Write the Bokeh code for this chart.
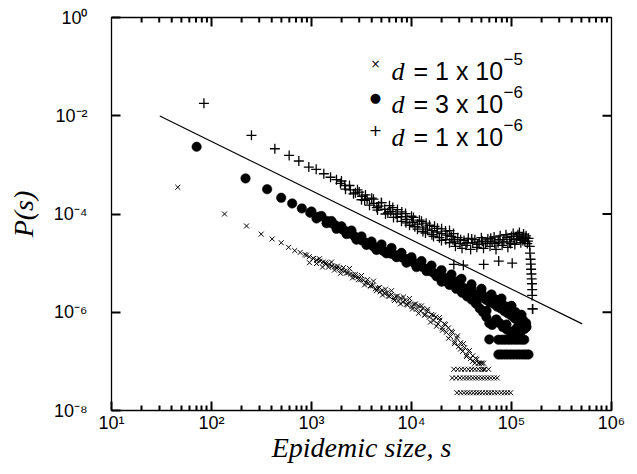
from bokeh.plotting import figure
from bokeh.models import (FixedTicker, CustomJSTickFormatter, Label, Range1d)
from bokeh.embed import file_html
from bokeh.resources import INLINE

# ---------------- data ----------------
# d = 1 x 10^-5  (x markers)
s_d1e5 = [46, 135, 224, 314, 404, 498, 590, 680, 770, 860, 950, 1040, 1130, 1220,
          1310, 1400, 1500, 1600, 1700, 1800, 1900, 2000, 2150, 2300, 2450, 2600,
          2750, 2900, 3100, 3300, 3500, 3700, 3900, 4100, 4350, 4600, 4850, 5100,
          5400, 5700, 6000, 6300, 6650, 7000, 7400, 7800, 8200, 8650, 9100, 9600,
          10100, 10600, 11200, 11800, 12400, 13000, 13700, 14400, 15100, 15900,
          16700, 17500, 18400, 19300, 20300, 21300, 22300, 23400, 24500, 25700,
          27000, 28300, 29600, 31000, 32500, 34000, 35600, 37200, 39000, 41000,
          43000, 45000, 47500, 50000, 52500,
          891, 955, 1047, 1122, 1202, 1288, 1380, 1479, 1585, 1698, 1820, 1950, 2089,
          2239, 2399, 2570, 2754, 2951, 3162, 3388, 3631, 3890, 4169, 4467, 4786,
          5129, 5495, 5888, 6310, 6761, 7244, 7762, 8318, 8913, 9550, 10230, 10960,
          11750, 12590, 13490, 14450, 15490, 16600, 17780, 19050, 20420, 21880,
          23440, 25120, 26920, 28840, 30900, 33110, 35480, 38020, 40740, 43650,
          46770, 50120, 52480,
          26500, 29000, 31500, 34000, 37000, 40000, 43000, 46500, 50000, 54000, 59000,
          25600, 28000, 30500, 33000, 35500, 38000, 41000, 44000, 47000, 50500, 54000,
          58000, 62000, 67000, 72000,
          28500, 31000, 33500, 36000, 38500, 41500, 44500, 47500, 51000, 55000, 59000,
          63000, 68000, 73000, 79000, 85000, 91000, 98000]
p_d1e5 = [3.5e-4, 1.0e-4, 5.7e-5, 3.9e-5, 3.1e-5, 2.6e-5, 2.1e-5, 1.8e-5, 1.65e-5,
          1.5e-5, 1.35e-5, 1.25e-5, 1.15e-5, 1.1e-5, 1.05e-5, 9.6e-6, 9.4e-6, 8.7e-6,
          8.4e-6, 7.9e-6, 7.8e-6, 7.2e-6, 6.9e-6, 6.3e-6, 6.0e-6, 5.8e-6, 5.3e-6,
          5.2e-6, 4.6e-6, 4.5e-6, 4.0e-6, 3.9e-6, 3.4e-6, 3.5e-6, 3.0e-6, 3.1e-6,
          2.6e-6, 2.8e-6, 2.4e-6, 2.5e-6, 2.1e-6, 2.3e-6, 1.9e-6, 2.1e-6, 1.7e-6,
          1.95e-6, 1.6e-6, 1.75e-6, 1.4e-6, 1.6e-6, 1.3e-6, 1.45e-6, 1.15e-6, 1.35e-6,
          1.05e-6, 1.2e-6, 9.0e-7, 1.05e-6, 8.0e-7, 9.0e-7, 6.8e-7, 8.0e-7, 5.8e-7,
          6.9e-7, 4.8e-7, 5.8e-7, 3.9e-7, 4.8e-7, 3.2e-7, 3.9e-7, 2.5e-7, 3.0e-7,
          2.0e-7, 2.4e-7, 1.6e-7, 1.9e-7, 1.35e-7, 1.6e-7, 1.15e-7, 1.3e-7, 9.2e-8,
          1.1e-7, 9.2e-8, 9.2e-8, 9.2e-8,
          1.45e-5, 1.02e-5, 1.24e-5, 9.8e-6, 1.23e-5, 8.3e-6, 1.02e-5, 8.3e-6, 1.05e-5,
          7.2e-6, 8.7e-6, 6.2e-6, 8.1e-6, 6.3e-6, 7.8e-6, 5.0e-6, 5.9e-6, 4.6e-6,
          5.6e-6, 3.6e-6, 4.6e-6, 3.5e-6, 4.3e-6, 2.75e-6, 3.2e-6, 2.24e-6, 2.95e-6,
          2.14e-6, 2.75e-6, 1.74e-6, 2.14e-6, 1.48e-6, 2.04e-6, 1.45e-6, 1.9e-6,
          1.17e-6, 1.48e-6, 9.5e-7, 1.35e-6, 8.7e-7, 1.15e-6, 6.3e-7, 8.7e-7, 5.2e-7,
          7.8e-7, 4.3e-7, 5.6e-7, 2.95e-7, 4.1e-7, 2.3e-7, 3.3e-7, 1.78e-7, 2.3e-7,
          1.26e-7, 1.66e-7, 1.0e-7, 1.15e-7, 9.2e-8, 9.2e-8, 6.9e-8,
          6.9e-8, 6.9e-8, 6.9e-8, 6.9e-8, 6.9e-8, 6.9e-8, 6.9e-8, 6.9e-8, 6.9e-8,
          6.9e-8, 6.9e-8,
          4.6e-8, 4.6e-8, 4.6e-8, 4.6e-8, 4.6e-8, 4.6e-8, 4.6e-8, 4.6e-8, 4.6e-8,
          4.6e-8, 4.6e-8, 4.6e-8, 4.6e-8, 4.6e-8, 4.6e-8,
          2.3e-8, 2.3e-8, 2.3e-8, 2.3e-8, 2.3e-8, 2.3e-8, 2.3e-8, 2.3e-8, 2.3e-8,
          2.3e-8, 2.3e-8, 2.3e-8, 2.3e-8, 2.3e-8, 2.3e-8, 2.3e-8, 2.3e-8, 2.3e-8]

# d = 3 x 10^-6  (filled circles)
s_d3e6 = [71, 219, 360, 498, 641, 800, 970, 1180, 1430, 1580, 1730, 1900, 2050, 2250,
          2450, 2700, 2950, 3200, 3500, 3800, 4150, 4500, 4900, 5300, 5800, 6300,
          6900, 7500, 8200, 9000, 9800, 10700, 11700, 12800, 14000, 15300, 16700,
          18200, 19900, 21700, 23700, 25800, 28100, 30600, 33300, 36300, 39500, 43000,
          46800, 51000, 55500, 60500, 66000, 72000, 78000, 85000, 92000, 100000,
          108000, 117000, 126000, 135000,
          1000, 1122, 1259, 1413, 1585, 1778, 1995, 2239, 2512, 2818, 3162, 3548,
          3981, 4467, 5012, 5623, 6310, 7079, 7943, 8913, 10000, 11220, 12590, 14130,
          15850, 17780, 19950, 22390, 25120, 28180, 31620, 35480, 39810, 44670, 50120,
          56230, 63100, 70790, 79430, 89130, 100000, 112200, 125900, 141300,
          20000, 24000, 28000, 32000, 36000, 40000, 44000, 48000, 52000, 56000, 60000,
          64000, 70000, 76000, 82000, 90000, 98000, 106000, 115000, 125000,
          30000, 40000, 50000, 60000, 70000, 80000, 90000, 100000, 110000, 120000,
          130000, 140000,
          60000,
          74000, 80000, 86000, 93000, 100000, 108000, 116000, 125000, 134000,
          74000, 79000, 85000, 91000, 98000, 105000, 113000, 121000, 130000, 139000,
          148000]
p_d3e6 = [2.34e-3, 5.3e-4, 3.2e-4, 2.14e-4, 1.64e-4, 1.3e-4, 1.06e-4, 8.8e-5, 7.2e-5,
          6.5e-5, 5.9e-5, 5.3e-5, 4.8e-5, 4.4e-5, 4.0e-5, 3.5e-5, 3.2e-5, 2.9e-5,
          2.6e-5, 2.45e-5, 2.2e-5, 2.05e-5, 1.9e-5, 1.75e-5, 1.65e-5, 1.55e-5,
          1.45e-5, 1.38e-5, 1.28e-5, 1.2e-5, 1.1e-5, 1.0e-5, 9.2e-6, 8.4e-6, 7.6e-6,
          6.9e-6, 6.3e-6, 5.8e-6, 5.4e-6, 5.0e-6, 4.7e-6, 4.3e-6, 3.9e-6, 3.4e-6,
          3.1e-6, 2.8e-6, 2.5e-6, 2.3e-6, 2.1e-6, 2.0e-6, 1.8e-6, 1.6e-6, 1.5e-6,
          1.3e-6, 1.2e-6, 1.05e-6, 9.5e-7, 8.5e-7, 7.5e-7, 6.5e-7, 5.5e-7, 4.6e-7,
          1.12e-4, 8.1e-5, 9.1e-5, 6.5e-5, 7.2e-5, 5.0e-5, 5.6e-5, 3.9e-5, 4.6e-5,
          3.0e-5, 3.5e-5, 2.35e-5, 2.75e-5, 1.86e-5, 2.4e-5, 1.58e-5, 2.04e-5,
          1.32e-5, 1.62e-5, 1.02e-5, 1.32e-5, 8.3e-6, 1.1e-5, 6.9e-6, 8.9e-6, 5.4e-6,
          7.2e-6, 4.2e-6, 5.9e-6, 3.2e-6, 4.8e-6, 2.24e-6, 3.7e-6, 1.58e-6, 3.0e-6,
          1.07e-6, 2.3e-6, 7.1e-7, 1.9e-6, 5.6e-7, 1.35e-6, 4.7e-7, 8.9e-7, 5.0e-7,
          4.2e-6, 3.6e-6, 3.0e-6, 2.5e-6, 2.1e-6, 1.8e-6, 1.5e-6, 1.2e-6, 1.0e-6,
          8.0e-7, 6.0e-7, 5.5e-7, 7.0e-7, 6.0e-7, 5.0e-7, 4.4e-7, 4.0e-7, 4.1e-7,
          4.1e-7, 4.1e-7,
          4.4e-6, 3.0e-6, 2.5e-6, 2.1e-6, 1.8e-6, 1.5e-6, 1.3e-6, 1.1e-6, 1.0e-6,
          8.5e-7, 7.0e-7, 6.0e-7,
          2.8e-7,
          2.76e-7, 2.76e-7, 2.76e-7, 2.76e-7, 2.76e-7, 2.76e-7, 2.76e-7, 2.76e-7, 2.76e-7,
          1.38e-7, 1.38e-7, 1.38e-7, 1.38e-7, 1.38e-7, 1.38e-7, 1.38e-7, 1.38e-7,
          1.38e-7, 1.38e-7, 1.38e-7]

# d = 1 x 10^-6  (+ markers)
s_d1e6 = [84, 251, 430, 598, 747, 940, 1114, 1328, 1550, 1778, 1950, 2150, 2450, 2750,
          3200, 3600, 4200, 4700, 5400, 6200, 7000, 7900, 9000, 10200, 11500, 13000,
          14400, 16000, 18000, 20000, 22700, 25000,
          3000, 4000, 5000, 6500, 8000, 10000, 12000, 14000, 17000, 20000, 24000,
          3400, 4500, 5800, 7200, 8800, 10800, 13000, 16000, 19000, 22000,
          1995, 2188, 2399, 2630, 2884, 3162, 3467, 3802, 4169, 4571, 5012, 5495,
          6026, 6607, 7244, 7943, 8710, 9550, 10470, 11480, 12590, 13800, 15140,
          16600, 18200, 19950, 21880, 23990, 26300,
          26000, 27500, 29000, 30500, 32000, 33500, 35000, 37000, 39000, 41000, 43000,
          45000, 47500, 50000, 52500, 55000, 58000, 61000, 64000, 67000, 70000, 73500,
          77000, 80500, 84000, 88000, 92000, 96000, 100000, 104000, 108000, 112000,
          116000, 120000, 124000, 128000, 132000, 136000, 140000, 144000, 148000,
          27000, 31000, 36000, 40000, 46000, 51000, 57000, 62000, 68000, 75000, 82000,
          90000, 98000, 106000, 114000, 122000, 130000, 138000, 146000,
          152000, 153000, 155000, 156000, 157000, 158000, 159000, 160000, 161000,
          161000, 162000, 163000,
          26500, 33000, 52700, 74500, 101600]
p_d1e6 = [1.79e-2, 4.0e-3, 2.13e-3, 1.56e-3, 1.2e-3, 9.0e-4, 8.1e-4, 6.6e-4, 5.6e-4,
          5.0e-4, 4.2e-4, 3.8e-4, 3.1e-4, 2.7e-4, 2.3e-4, 2.0e-4, 1.65e-4, 1.45e-4,
          1.25e-4, 1.12e-4, 1.0e-4, 8.8e-5, 7.8e-5, 6.8e-5, 6.2e-5, 5.4e-5, 4.9e-5,
          4.6e-5, 4.3e-5, 4.0e-5, 3.7e-5, 3.5e-5,
          2.8e-4, 2.1e-4, 1.7e-4, 1.35e-4, 1.1e-4, 9.0e-5, 7.5e-5, 6.5e-5, 5.6e-5,
          5.0e-5, 4.6e-5,
          1.9e-4, 1.35e-4, 1.05e-4, 8.5e-5, 6.6e-5, 5.5e-5, 4.4e-5, 3.8e-5, 3.3e-5,
          3.0e-5,
          4.7e-4, 3.2e-4, 3.8e-4, 2.57e-4, 3.1e-4, 1.95e-4, 2.45e-4, 1.51e-4, 2.0e-4,
          1.2e-4, 1.7e-4, 1.0e-4, 1.48e-4, 8.5e-5, 1.23e-4, 7.1e-5, 1.02e-4, 5.9e-5,
          8.5e-5, 4.9e-5, 7.1e-5, 4.1e-5, 5.9e-5, 3.5e-5, 5.1e-5, 2.9e-5, 4.5e-5,
          2.6e-5, 4.0e-5,
          3.0e-5, 2.2e-5, 3.3e-5, 2.5e-5, 2.0e-5, 2.9e-5, 2.3e-5, 3.2e-5, 1.9e-5,
          2.6e-5, 3.0e-5, 2.1e-5, 2.7e-5, 3.3e-5, 2.0e-5, 2.5e-5, 3.1e-5, 2.2e-5,
          2.8e-5, 3.4e-5, 1.9e-5, 2.6e-5, 3.6e-5, 2.3e-5, 3.0e-5, 3.8e-5, 2.1e-5,
          2.7e-5, 3.5e-5, 4.0e-5, 2.4e-5, 3.1e-5, 3.8e-5, 4.2e-5, 2.6e-5, 3.3e-5,
          3.9e-5, 2.8e-5, 3.6e-5, 2.5e-5, 3.2e-5,
          2.7e-5, 3.0e-5, 2.6e-5, 3.1e-5, 2.4e-5, 2.8e-5, 2.7e-5, 3.2e-5, 2.5e-5,
          3.0e-5, 2.7e-5, 3.3e-5, 2.5e-5, 3.0e-5, 3.5e-5, 3.1e-5, 2.9e-5, 3.3e-5,
          2.8e-5,
          2.2e-5, 1.6e-5, 1.2e-5, 9.5e-6, 7.5e-6, 6.0e-6, 4.8e-6, 3.8e-6, 2.9e-6,
          2.2e-6, 1.17e-6, 1.17e-6,
          9.4e-6, 9.1e-6, 9.4e-6, 1.1e-5, 1.0e-5]

# reference power-law line
s_line = [30.4, 509000]
p_line = [9.9e-3, 5.8e-7]

x_ticks = [10, 100, 1000, 10000, 100000, 1000000]
x_minor = [m * t for t in [10, 100, 1000, 10000, 100000] for m in range(2, 10)]
y_ticks = [1e-8, 1e-6, 1e-4, 1e-2, 1]

legend_sym = ["\u00d7", "\u25cf", "+"]
legend_exp = ["\u22125", "\u22126", "\u22126"]
legend_coef = ["= 1 x 10", "= 3 x 10", "= 1 x 10"]

# ---------------- figure ----------------
X0, X1, Y0, Y1 = 10, 1e6, 1e-8, 1
FW, FH = 500, 393
p = figure(frame_width=FW, frame_height=FH,
           x_axis_type="log", y_axis_type="log",
           x_range=Range1d(X0, X1), y_range=Range1d(Y0, Y1),
           output_backend="svg", toolbar_location=None,
           min_border_left=111, min_border_right=25, min_border_top=17,
           min_border_bottom=63)
p.grid.visible = False
p.outline_line_color = "black"
p.outline_line_width = 1.3

sup_code = """
const sup = {"-":"\u207b","0":"\u2070","1":"\u00b9","2":"\u00b2","3":"\u00b3",
             "4":"\u2074","5":"\u2075","6":"\u2076","7":"\u2077","8":"\u2078","9":"\u2079"};
const e = Math.round(Math.log10(tick));
return "10" + String(e).split("").map(c => sup[c]).join("");
"""
fmt = CustomJSTickFormatter(code=sup_code)

xt = FixedTicker(ticks=x_ticks, minor_ticks=x_minor)
yt = FixedTicker(ticks=y_ticks, minor_ticks=[])


def style(ax, ticker):
    ax.ticker = ticker
    ax.formatter = fmt
    ax.major_tick_in = 9
    ax.major_tick_out = 0
    ax.minor_tick_in = 5
    ax.minor_tick_out = 0
    ax.axis_line_color = "black"
    ax.major_tick_line_color = "black"
    ax.major_tick_line_width = 2
    ax.minor_tick_line_color = "black"
    ax.minor_tick_line_width = 2
    ax.major_label_text_font = "Liberation Sans"
    ax.major_label_text_font_size = "18px"
    ax.major_label_text_color = "black"
    ax.axis_label_text_font = "Liberation Serif"
    ax.axis_label_text_font_style = "italic"
    ax.axis_label_text_font_size = "28px"
    ax.axis_label_text_color = "black"


xb = p.xaxis[0]
style(xb, xt)
xb.major_label_standoff = 2
xb.axis_label = "Epidemic size, s"
xb.axis_label_standoff = -4

yl = p.yaxis[0]
style(yl, yt)
yl.major_label_standoff = 24
yl.axis_label = "P(s)"
yl.axis_label_standoff = 12

# inward tick marks on the top and right frame edges, from the tick lists
fy_maj = 10 ** (9 * 8 / FH)
fy_min = 10 ** (5 * 8 / FH)
fx_maj = 10 ** (9 * 5 / FW)
xt_in = x_ticks[1:-1]
yt_in = y_ticks[1:-1]
tick_kw = dict(line_color="black", line_width=2)
p.segment(x0=xt_in, y0=[Y1] * len(xt_in), x1=xt_in, y1=[Y1 / fy_maj] * len(xt_in), **tick_kw)
p.segment(x0=x_minor, y0=[Y1] * len(x_minor), x1=x_minor, y1=[Y1 / fy_min] * len(x_minor), **tick_kw)
p.segment(x0=[X1] * len(yt_in), y0=yt_in, x1=[X1 / fx_maj] * len(yt_in), y1=yt_in, **tick_kw)

# ---------------- data marks ----------------
p.line(s_line, p_line, line_color="black", line_width=1.2)
p.scatter(s_d1e5, p_d1e5, marker="x", size=7, line_color="black", line_width=1)
p.scatter(s_d3e6, p_d3e6, marker="circle", size=9.5, fill_color="black",
          line_color="black", line_width=0.5)
p.scatter(s_d1e6, p_d1e6, marker="cross", size=10, line_color="black", line_width=1.3)

# ---------------- legend (key symbols + text) ----------------
row_base = [339.5, 306.5, 273.5]
sym_size = ["12px", "13px", "16px"]
for i in range(3):
    p.add_layout(Label(x=264, y=row_base[i] + 7, x_units="screen", y_units="screen",
                       text=legend_sym[i], text_font="DejaVu Sans",
                       text_font_size=sym_size[i], text_color="black",
                       text_align="center", text_baseline="middle"))
    p.add_layout(Label(x=280, y=row_base[i], x_units="screen", y_units="screen",
                       text="d", text_font="Liberation Serif", text_font_style="italic",
                       text_font_size="26px", text_color="black",
                       text_baseline="alphabetic"))
    p.add_layout(Label(x=302, y=row_base[i], x_units="screen", y_units="screen",
                       text=legend_coef[i], text_font="Liberation Sans",
                       text_font_size="25px", text_color="black",
                       text_baseline="alphabetic"))
    p.add_layout(Label(x=392, y=row_base[i] + 12, x_units="screen", y_units="screen",
                       text=legend_exp[i], text_font="Liberation Sans",
                       text_font_size="17px", text_color="black",
                       text_baseline="alphabetic"))

open("out.html", "w").write(file_html(p, INLINE))
